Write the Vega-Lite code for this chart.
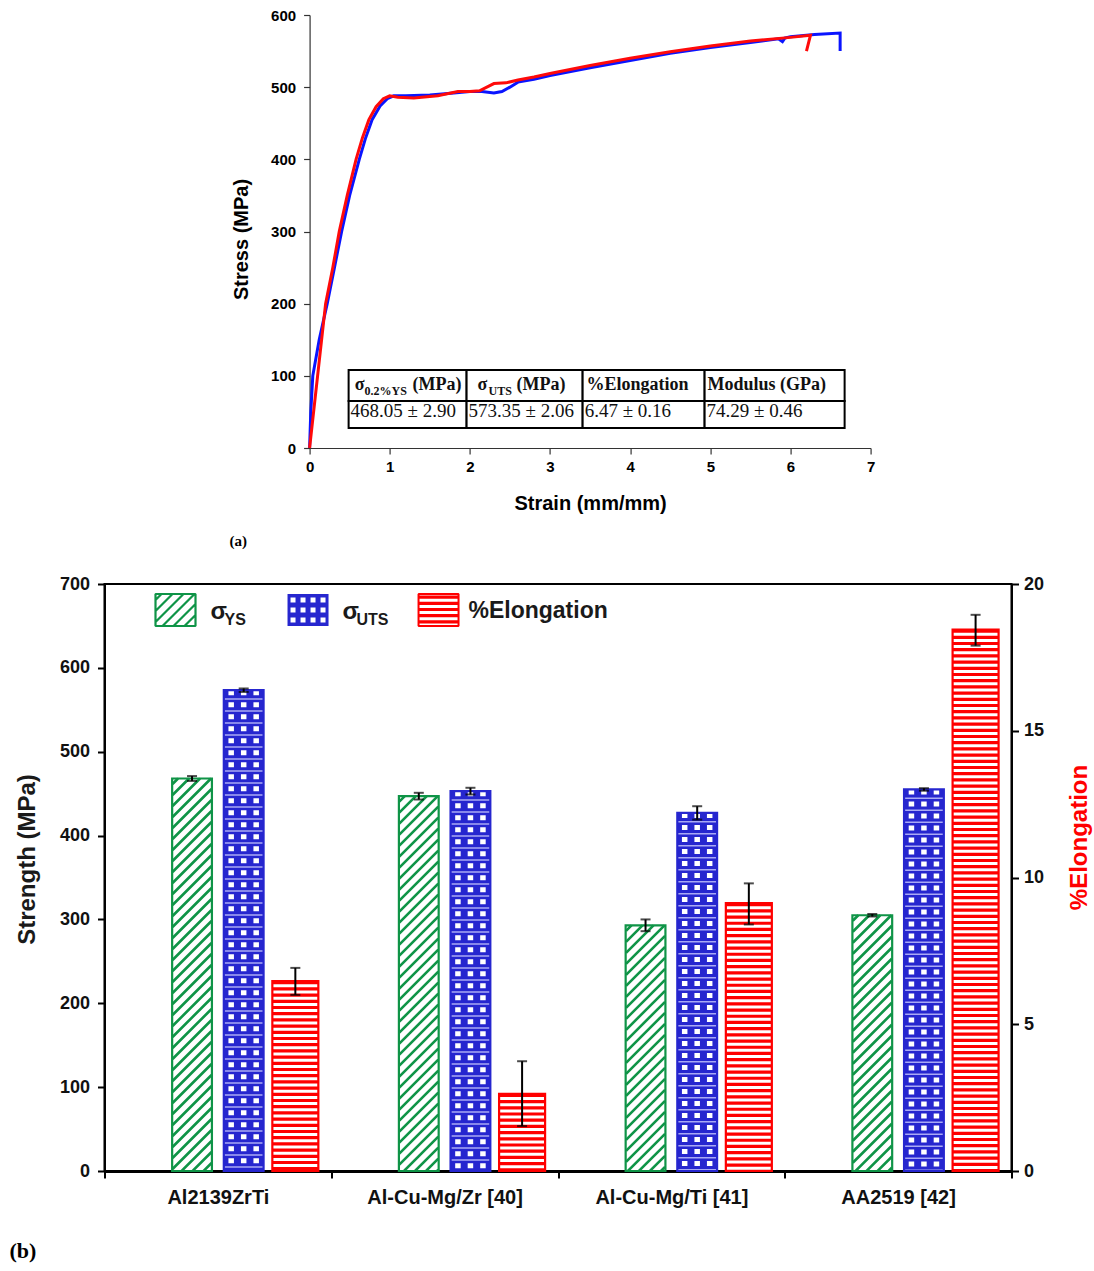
{
  "$schema": "https://vega.github.io/schema/vega-lite/v6.json",
  "background": "white",
  "padding": {"left": 8, "right": 4, "top": 8, "bottom": 2},
  "center": true,
  "spacing": 25,
  "config": {"view": {"stroke": null}, "font": "Liberation Sans"},
  "datasets": {
    "curve": [
      {"specimen": "Test 1", "i": 0, "strain": 0, "stress": 0},
      {"specimen": "Test 1", "i": 1, "strain": 0.015, "stress": 50},
      {"specimen": "Test 1", "i": 2, "strain": 0.04, "stress": 100},
      {"specimen": "Test 1", "i": 3, "strain": 0.12, "stress": 150},
      {"specimen": "Test 1", "i": 4, "strain": 0.22, "stress": 200},
      {"specimen": "Test 1", "i": 5, "strain": 0.31, "stress": 250},
      {"specimen": "Test 1", "i": 6, "strain": 0.4, "stress": 300},
      {"specimen": "Test 1", "i": 7, "strain": 0.5, "stress": 350},
      {"specimen": "Test 1", "i": 8, "strain": 0.62, "stress": 400},
      {"specimen": "Test 1", "i": 9, "strain": 0.7, "stress": 430},
      {"specimen": "Test 1", "i": 10, "strain": 0.78, "stress": 455},
      {"specimen": "Test 1", "i": 11, "strain": 0.88, "stress": 474},
      {"specimen": "Test 1", "i": 12, "strain": 0.97, "stress": 484},
      {"specimen": "Test 1", "i": 13, "strain": 1.05, "stress": 488},
      {"specimen": "Test 1", "i": 14, "strain": 1.2, "stress": 488},
      {"specimen": "Test 1", "i": 15, "strain": 1.5, "stress": 489},
      {"specimen": "Test 1", "i": 16, "strain": 1.8, "stress": 492},
      {"specimen": "Test 1", "i": 17, "strain": 2.0, "stress": 494},
      {"specimen": "Test 1", "i": 18, "strain": 2.15, "stress": 494},
      {"specimen": "Test 1", "i": 19, "strain": 2.3, "stress": 492},
      {"specimen": "Test 1", "i": 20, "strain": 2.4, "stress": 494},
      {"specimen": "Test 1", "i": 21, "strain": 2.5, "stress": 500},
      {"specimen": "Test 1", "i": 22, "strain": 2.6, "stress": 507},
      {"specimen": "Test 1", "i": 23, "strain": 2.8, "stress": 511},
      {"specimen": "Test 1", "i": 24, "strain": 3.0, "stress": 516},
      {"specimen": "Test 1", "i": 25, "strain": 3.5, "stress": 527},
      {"specimen": "Test 1", "i": 26, "strain": 4.0, "stress": 537},
      {"specimen": "Test 1", "i": 27, "strain": 4.5, "stress": 547},
      {"specimen": "Test 1", "i": 28, "strain": 5.0, "stress": 555},
      {"specimen": "Test 1", "i": 29, "strain": 5.5, "stress": 562},
      {"specimen": "Test 1", "i": 30, "strain": 5.85, "stress": 567},
      {"specimen": "Test 1", "i": 31, "strain": 5.9, "stress": 563},
      {"specimen": "Test 1", "i": 32, "strain": 5.93, "stress": 568},
      {"specimen": "Test 1", "i": 33, "strain": 6.0, "stress": 570},
      {"specimen": "Test 1", "i": 34, "strain": 6.3, "stress": 573},
      {"specimen": "Test 1", "i": 35, "strain": 6.62, "stress": 575},
      {"specimen": "Test 1", "i": 36, "strain": 6.62, "stress": 550},
      {"specimen": "Test 2", "i": 0, "strain": 0, "stress": 0},
      {"specimen": "Test 2", "i": 1, "strain": 0.1, "stress": 100},
      {"specimen": "Test 2", "i": 2, "strain": 0.2, "stress": 200},
      {"specimen": "Test 2", "i": 3, "strain": 0.29, "stress": 250},
      {"specimen": "Test 2", "i": 4, "strain": 0.37, "stress": 300},
      {"specimen": "Test 2", "i": 5, "strain": 0.47, "stress": 350},
      {"specimen": "Test 2", "i": 6, "strain": 0.58, "stress": 400},
      {"specimen": "Test 2", "i": 7, "strain": 0.66, "stress": 430},
      {"specimen": "Test 2", "i": 8, "strain": 0.74, "stress": 455},
      {"specimen": "Test 2", "i": 9, "strain": 0.83, "stress": 473},
      {"specimen": "Test 2", "i": 10, "strain": 0.92, "stress": 484},
      {"specimen": "Test 2", "i": 11, "strain": 1.0, "stress": 488},
      {"specimen": "Test 2", "i": 12, "strain": 1.1, "stress": 486},
      {"specimen": "Test 2", "i": 13, "strain": 1.3, "stress": 485},
      {"specimen": "Test 2", "i": 14, "strain": 1.6, "stress": 488},
      {"specimen": "Test 2", "i": 15, "strain": 1.85, "stress": 494},
      {"specimen": "Test 2", "i": 16, "strain": 2.0, "stress": 494},
      {"specimen": "Test 2", "i": 17, "strain": 2.12, "stress": 495},
      {"specimen": "Test 2", "i": 18, "strain": 2.3, "stress": 505},
      {"specimen": "Test 2", "i": 19, "strain": 2.45, "stress": 506},
      {"specimen": "Test 2", "i": 20, "strain": 2.6, "stress": 510},
      {"specimen": "Test 2", "i": 21, "strain": 2.8, "stress": 514},
      {"specimen": "Test 2", "i": 22, "strain": 3.0, "stress": 519},
      {"specimen": "Test 2", "i": 23, "strain": 3.5, "stress": 530},
      {"specimen": "Test 2", "i": 24, "strain": 4.0, "stress": 540},
      {"specimen": "Test 2", "i": 25, "strain": 4.5, "stress": 549},
      {"specimen": "Test 2", "i": 26, "strain": 5.0, "stress": 557},
      {"specimen": "Test 2", "i": 27, "strain": 5.5, "stress": 564},
      {"specimen": "Test 2", "i": 28, "strain": 6.0, "stress": 569},
      {"specimen": "Test 2", "i": 29, "strain": 6.25, "stress": 572},
      {"specimen": "Test 2", "i": 30, "strain": 6.2, "stress": 550}
    ],
    "tablecols": [
      {"col": 1, "left": 0.487, "right": 1.959, "value": "468.05 ± 2.90"},
      {"col": 2, "left": 1.959, "right": 3.407, "value": "573.35 ± 2.06"},
      {"col": 3, "left": 3.407, "right": 4.929, "value": "6.47 ± 0.16"},
      {"col": 4, "left": 4.929, "right": 6.676, "value": "74.29 ± 0.46"}
    ],
    "tablehead": [
      {"strain": 0.562, "text": "σ", "part": "main"},
      {"strain": 0.686, "text": "0.2%YS", "part": "sub"},
      {"strain": 1.285, "text": "(MPa)", "part": "main"},
      {"strain": 2.096, "text": "σ", "part": "main"},
      {"strain": 2.234, "text": "UTS", "part": "sub"},
      {"strain": 2.583, "text": "(MPa)", "part": "main"},
      {"strain": 3.456, "text": "%Elongation", "part": "main"},
      {"strain": 4.966, "text": "Modulus (GPa)", "part": "main"}
    ],
    "bars": [
      {"material": "Al2139ZrTi", "property": "YS", "value": 468.05, "low": 465.15, "high": 470.95},
      {"material": "Al2139ZrTi", "property": "UTS", "value": 573.35, "low": 571.29, "high": 575.41},
      {"material": "Al2139ZrTi", "property": "EL", "value": 6.47, "low": 6.0, "high": 6.92},
      {"material": "Al-Cu-Mg/Zr [40]", "property": "YS", "value": 447, "low": 443, "high": 451},
      {"material": "Al-Cu-Mg/Zr [40]", "property": "UTS", "value": 453, "low": 449, "high": 457},
      {"material": "Al-Cu-Mg/Zr [40]", "property": "EL", "value": 2.63, "low": 1.53, "high": 3.74},
      {"material": "Al-Cu-Mg/Ti [41]", "property": "YS", "value": 293, "low": 286, "high": 300},
      {"material": "Al-Cu-Mg/Ti [41]", "property": "UTS", "value": 427, "low": 419, "high": 435},
      {"material": "Al-Cu-Mg/Ti [41]", "property": "EL", "value": 9.13, "low": 8.4, "high": 9.8},
      {"material": "AA2519 [42]", "property": "YS", "value": 305, "low": 303.5, "high": 306.5},
      {"material": "AA2519 [42]", "property": "UTS", "value": 455, "low": 453.5, "high": 456.5},
      {"material": "AA2519 [42]", "property": "EL", "value": 18.45, "low": 17.9, "high": 18.95}
    ]
  },
  "vconcat": [
    {
      "width": 561,
      "height": 433,
      "title": {"text": "(a)", "orient": "bottom", "anchor": "start", "frame": "group", "font": "Liberation Serif", "fontSize": 15, "fontWeight": "bold", "color": "black", "dx": -80, "offset": 21},
      "layer": [
        {
          "data": {"name": "curve"},
          "mark": {"type": "line", "strokeWidth": 3},
          "encoding": {
            "x": {"field": "strain", "type": "quantitative", "title": "Strain (mm/mm)",
              "scale": {"domain": [0, 7], "nice": false},
              "axis": {"values": [0, 1, 2, 3, 4, 5, 6, 7], "format": "d", "grid": false, "labelFontSize": 15, "labelFontWeight": "bold", "labelColor": "black", "labelPadding": 5, "tickSize": 6, "tickColor": "#333", "tickWidth": 1.2, "domainColor": "#333", "domainWidth": 1.2, "titleFontSize": 20, "titleFontWeight": "bold", "titleColor": "black", "titlePadding": 19, "labelFlush": false}},
            "y": {"field": "stress", "type": "quantitative", "title": "Stress (MPa)",
              "scale": {"domain": [0, 600], "nice": false},
              "axis": {"values": [0, 100, 200, 300, 400, 500, 600], "format": "d", "grid": false, "labelFontSize": 15, "labelFontWeight": "bold", "labelColor": "black", "labelPadding": 8, "tickSize": 6, "tickColor": "#333", "tickWidth": 1.2, "domainColor": "#333", "domainWidth": 1.2, "titleFontSize": 20, "titleFontWeight": "bold", "titleColor": "black", "titlePadding": 19, "titleY": 224}},
            "color": {"field": "specimen", "type": "nominal", "scale": {"domain": ["Test 1", "Test 2"], "range": ["#0a14ff", "#ff0a0a"]}, "legend": null},
            "order": {"field": "i", "type": "quantitative"}
          }
        },
        {
          "data": {"name": "tablecols"},
          "mark": {"type": "rect", "fill": "white", "stroke": "black", "strokeWidth": 2},
          "encoding": {
            "x": {"field": "left", "type": "quantitative", "title": "Strain (mm/mm)"},
            "x2": {"field": "right"},
            "y": {"datum": 108.1, "type": "quantitative", "title": "Stress (MPa)"},
            "y2": {"datum": 65.1}
          }
        },
        {
          "data": {"name": "tablecols"},
          "mark": {"type": "rect", "fill": "white", "stroke": "black", "strokeWidth": 2},
          "encoding": {
            "x": {"field": "left", "type": "quantitative", "title": "Strain (mm/mm)"},
            "x2": {"field": "right"},
            "y": {"datum": 65.1, "type": "quantitative", "title": "Stress (MPa)"},
            "y2": {"datum": 27.7}
          }
        },
        {
          "data": {"name": "tablecols"},
          "mark": {"type": "text", "font": "Liberation Serif", "fontSize": 19, "align": "left", "baseline": "alphabetic", "color": "#111", "dx": 2},
          "encoding": {
            "x": {"field": "left", "type": "quantitative", "title": "Strain (mm/mm)"},
            "y": {"datum": 43, "type": "quantitative", "title": "Stress (MPa)"},
            "text": {"field": "value"}
          }
        },
        {
          "data": {"name": "tablehead"},
          "transform": [{"filter": "datum.part === 'main'"}],
          "mark": {"type": "text", "font": "Liberation Serif", "fontSize": 18, "fontWeight": "bold", "align": "left", "baseline": "alphabetic", "color": "#111"},
          "encoding": {
            "x": {"field": "strain", "type": "quantitative", "title": "Strain (mm/mm)"},
            "y": {"datum": 80.4, "type": "quantitative", "title": "Stress (MPa)"},
            "text": {"field": "text"}
          }
        },
        {
          "data": {"name": "tablehead"},
          "transform": [{"filter": "datum.part === 'sub'"}],
          "mark": {"type": "text", "font": "Liberation Serif", "fontSize": 12, "fontWeight": "bold", "align": "left", "baseline": "alphabetic", "color": "#111"},
          "encoding": {
            "x": {"field": "strain", "type": "quantitative", "title": "Strain (mm/mm)"},
            "y": {"datum": 73.4, "type": "quantitative", "title": "Stress (MPa)"},
            "text": {"field": "text"}
          }
        },
        {
          "data": {"values": [{}]},
          "mark": {"type": "text", "text": ".", "opacity": 0, "align": "right", "fontSize": 10},
          "encoding": {
            "x": {"datum": 7.21, "type": "quantitative", "title": "Strain (mm/mm)"},
            "y": {"datum": 0, "type": "quantitative", "title": "Stress (MPa)"}
          }
        }
      ]
    },
    {
      "width": 907,
      "height": 587,
      "view": {"stroke": "black", "strokeWidth": 2},
      "title": {"text": "(b)", "orient": "bottom", "anchor": "start", "frame": "bounds", "font": "Liberation Serif", "fontSize": 22, "fontWeight": "bold", "color": "black", "dx": -6, "offset": 34},
      "resolve": {"scale": {"x": "independent", "y": "independent"}},
      "layer": [
        {
          "data": {"name": "bars"},
          "transform": [{"filter": "datum.property !== 'EL'"}],
          "encoding": {
            "x": {"field": "material", "type": "nominal", "title": null,
              "scale": {"domain": ["Al2139ZrTi", "Al-Cu-Mg/Zr [40]", "Al-Cu-Mg/Ti [41]", "AA2519 [42]"], "paddingInner": 0, "paddingOuter": 0},
              "axis": {"labelFontSize": 20, "labelFontWeight": "bold", "labelColor": "#111", "labelAngle": 0, "labelPadding": 9, "tickBand": "extent", "tickSize": 7, "tickWidth": 2, "tickColor": "black", "domainColor": "black", "domainWidth": 3, "grid": false}},
            "xOffset": {"field": "property", "type": "nominal", "scale": {"domain": ["_", "YS", "UTS", "EL"], "paddingInner": 0.23, "paddingOuter": 0.31}},
            "y": {"field": "value", "type": "quantitative", "title": "Strength (MPa)",
              "scale": {"domain": [0, 700], "nice": false},
              "axis": {"values": [0, 100, 200, 300, 400, 500, 600, 700], "labelFontSize": 18, "labelFontWeight": "bold", "labelColor": "#111", "labelPadding": 8, "tickSize": 7, "tickWidth": 2, "tickColor": "black", "domainColor": "black", "domainWidth": 2, "titleFontSize": 24, "titleFontWeight": "bold", "titleColor": "#1a1a1a", "titlePadding": 20, "titleY": 275, "grid": false}}
          },
          "layer": [
            {
              "transform": [{"filter": "datum.property === 'YS'"}],
              "mark": {"type": "bar", "fill": "white", "strokeWidth": 0}
            },
            {
              "transform": [{"filter": "datum.property === 'YS'"}],
              "mark": {"type": "point", "clip": true, "size": 4, "filled": false, "opacity": 1, "stroke": "#0f9447", "strokeWidth": 2.6, "strokeJoin": "bevel",
                "shape": "M-19.5 5.5L-14 0M-19.5 16.5L-3 0M-19.5 27.5L8 0M-19.5 38.5L19 0M-19.5 49.5L19.5 10.5m-39 50l39-39m-39 50l39-39m-39 50l39-39m-39 50l39-39m-39 50l39-39m-39 50l39-39m-39 50l39-39m-39 50l39-39m-39 50l39-39m-39 50l39-39m-39 50l39-39m-39 50l39-39m-39 50l39-39m-39 50l39-39m-39 50l39-39m-39 50l39-39m-39 50l39-39m-39 50l39-39m-39 50l39-39m-39 50l39-39m-39 50l39-39m-39 50l39-39m-39 50l39-39m-39 50l39-39m-39 50l39-39m-39 50l39-39m-39 50l39-39m-39 50l39-39m-39 50l39-39m-39 50l39-39m-39 50l39-39m-39 50l39-39m-39 50l39-39m-39 50l39-39m-39 50l39-39m-39 50l39-39"}
            },
            {
              "transform": [{"filter": "datum.property === 'YS'"}],
              "mark": {"type": "bar", "fillOpacity": 0, "stroke": "#0f9447", "strokeWidth": 2.2}
            },
            {
              "transform": [{"filter": "datum.property === 'UTS'"}],
              "mark": {"type": "bar", "fill": "#2626cf", "strokeWidth": 0}
            },
            {
              "transform": [{"filter": "datum.property === 'UTS'"}],
              "mark": {"type": "point", "clip": true, "size": 4, "filled": false, "opacity": 1, "stroke": "white", "strokeWidth": 5.5, "strokeDash": [5, 7], "strokeJoin": "bevel",
                "shape": "M-12.5 0V600M0 0V600M12.5 0V600"}
            },
            {
              "transform": [{"filter": "datum.property === 'UTS'"}],
              "mark": {"type": "point", "clip": true, "size": 4, "filled": false, "opacity": 1, "stroke": "#a9a9f5", "strokeWidth": 1.5, "strokeJoin": "bevel",
                "shape": "M-19.5 8.75h39m-39 12h39m-39 12h39m-39 12h39m-39 12h39m-39 12h39m-39 12h39m-39 12h39m-39 12h39m-39 12h39m-39 12h39m-39 12h39m-39 12h39m-39 12h39m-39 12h39m-39 12h39m-39 12h39m-39 12h39m-39 12h39m-39 12h39m-39 12h39m-39 12h39m-39 12h39m-39 12h39m-39 12h39m-39 12h39m-39 12h39m-39 12h39m-39 12h39m-39 12h39m-39 12h39m-39 12h39m-39 12h39m-39 12h39m-39 12h39m-39 12h39m-39 12h39m-39 12h39m-39 12h39m-39 12h39m-39 12h39m-39 12h39m-39 12h39m-39 12h39m-39 12h39m-39 12h39m-39 12h39m-39 12h39m-39 12h39m-39 12h39"}
            },
            {
              "transform": [{"filter": "datum.property === 'UTS'"}],
              "mark": {"type": "bar", "fillOpacity": 0, "stroke": "#2626cf", "strokeWidth": 2.2}
            },
            {
              "mark": {"type": "rule", "color": "black", "strokeWidth": 2},
              "encoding": {"y": {"field": "low", "type": "quantitative", "title": "Strength (MPa)"}, "y2": {"field": "high"}}
            },
            {
              "mark": {"type": "tick", "color": "black", "thickness": 2, "size": 10},
              "encoding": {"y": {"field": "low", "type": "quantitative", "title": "Strength (MPa)"}}
            },
            {
              "mark": {"type": "tick", "color": "black", "thickness": 2, "size": 10},
              "encoding": {"y": {"field": "high", "type": "quantitative", "title": "Strength (MPa)"}}
            }
          ]
        },
        {
          "data": {"name": "bars"},
          "transform": [{"filter": "datum.property === 'EL'"}],
          "encoding": {
            "x": {"field": "material", "type": "nominal", "title": null,
              "scale": {"domain": ["Al2139ZrTi", "Al-Cu-Mg/Zr [40]", "Al-Cu-Mg/Ti [41]", "AA2519 [42]"], "paddingInner": 0, "paddingOuter": 0},
              "axis": null},
            "xOffset": {"field": "property", "type": "nominal", "scale": {"domain": ["_", "YS", "UTS", "EL"], "paddingInner": 0.23, "paddingOuter": 0.31}},
            "y": {"field": "value", "type": "quantitative", "title": "%Elongation",
              "scale": {"domain": [0, 20], "nice": false},
              "axis": {"orient": "right", "values": [0, 5, 10, 15, 20], "labelFontSize": 18, "labelFontWeight": "bold", "labelColor": "#111", "labelPadding": 5, "tickSize": 7, "tickWidth": 2, "tickColor": "black", "domainColor": "black", "domainWidth": 2, "titleFontSize": 24, "titleFontWeight": "bold", "titleColor": "#ff0000", "titleAngle": 270, "titleBaseline": "top", "titlePadding": 24, "titleY": 253, "grid": false}}
          },
          "layer": [
            {
              "mark": {"type": "bar", "fill": "white", "strokeWidth": 0, "width": 46}
            },
            {
              "mark": {"type": "point", "clip": true, "size": 4, "filled": false, "opacity": 1, "stroke": "#ff0000", "strokeWidth": 3.2, "strokeJoin": "bevel",
                "shape": "M-23 1.6h46m-46 6.2h46m-46 6.2h46m-46 6.2h46m-46 6.2h46m-46 6.2h46m-46 6.2h46m-46 6.2h46m-46 6.2h46m-46 6.2h46m-46 6.2h46m-46 6.2h46m-46 6.2h46m-46 6.2h46m-46 6.2h46m-46 6.2h46m-46 6.2h46m-46 6.2h46m-46 6.2h46m-46 6.2h46m-46 6.2h46m-46 6.2h46m-46 6.2h46m-46 6.2h46m-46 6.2h46m-46 6.2h46m-46 6.2h46m-46 6.2h46m-46 6.2h46m-46 6.2h46m-46 6.2h46m-46 6.2h46m-46 6.2h46m-46 6.2h46m-46 6.2h46m-46 6.2h46m-46 6.2h46m-46 6.2h46m-46 6.2h46m-46 6.2h46m-46 6.2h46m-46 6.2h46m-46 6.2h46m-46 6.2h46m-46 6.2h46m-46 6.2h46m-46 6.2h46m-46 6.2h46m-46 6.2h46m-46 6.2h46m-46 6.2h46m-46 6.2h46m-46 6.2h46m-46 6.2h46m-46 6.2h46m-46 6.2h46m-46 6.2h46m-46 6.2h46m-46 6.2h46m-46 6.2h46m-46 6.2h46m-46 6.2h46m-46 6.2h46m-46 6.2h46m-46 6.2h46m-46 6.2h46m-46 6.2h46m-46 6.2h46m-46 6.2h46m-46 6.2h46m-46 6.2h46m-46 6.2h46m-46 6.2h46m-46 6.2h46m-46 6.2h46m-46 6.2h46m-46 6.2h46m-46 6.2h46m-46 6.2h46m-46 6.2h46m-46 6.2h46m-46 6.2h46m-46 6.2h46m-46 6.2h46m-46 6.2h46m-46 6.2h46m-46 6.2h46m-46 6.2h46m-46 6.2h46m-46 6.2h46m-46 6.2h46"}
            },
            {
              "mark": {"type": "bar", "fillOpacity": 0, "stroke": "#ff0000", "strokeWidth": 2.2, "width": 46}
            },
            {
              "mark": {"type": "rule", "color": "black", "strokeWidth": 2},
              "encoding": {"y": {"field": "low", "type": "quantitative", "title": "%Elongation"}, "y2": {"field": "high"}}
            },
            {
              "mark": {"type": "tick", "color": "black", "thickness": 2, "size": 10},
              "encoding": {"y": {"field": "low", "type": "quantitative", "title": "%Elongation"}}
            },
            {
              "mark": {"type": "tick", "color": "black", "thickness": 2, "size": 10},
              "encoding": {"y": {"field": "high", "type": "quantitative", "title": "%Elongation"}}
            }
          ]
        },
        {
          "data": {"values": [{}]},
          "layer": [
            {
              "mark": {"type": "point", "size": 4, "filled": false, "opacity": 1, "stroke": "#0f9447", "strokeWidth": 2.2, "strokeJoin": "bevel",
                "shape": "M-20 -16H20V16H-20ZM-20 -10L-14 -16M-20 1L-3 -16M-20 12L8 -16M-13 16L19 -16M-2 16L20 -6M9 16L20 5"},
              "encoding": {
                "x": {"datum": 0.0783, "type": "quantitative", "scale": {"domain": [0, 1], "nice": false, "zero": false}, "axis": null},
                "y": {"datum": 669, "type": "quantitative", "scale": {"domain": [0, 700], "nice": false}, "axis": null}
              }
            },
            {
              "mark": {"type": "point", "size": 4, "filled": true, "opacity": 1, "fill": "#2626cf", "strokeWidth": 0,
                "shape": "M-20.5 -16H20.5V16H-20.5ZM-17.5 -12.5V-7.5H-12.5V-12.5ZM-7.5 -12.5V-7.5H-2.5V-12.5ZM2.5 -12.5V-7.5H7.5V-12.5ZM12.5 -12.5V-7.5H17.5V-12.5ZM-17.5 -2.5V2.5H-12.5V-2.5ZM-7.5 -2.5V2.5H-2.5V-2.5ZM2.5 -2.5V2.5H7.5V-2.5ZM12.5 -2.5V2.5H17.5V-2.5ZM-17.5 7.5V12.5H-12.5V7.5ZM-7.5 7.5V12.5H-2.5V7.5ZM2.5 7.5V12.5H7.5V7.5ZM12.5 7.5V12.5H17.5V7.5Z"},
              "encoding": {
                "x": {"datum": 0.2244, "type": "quantitative", "axis": null},
                "y": {"datum": 669, "type": "quantitative", "axis": null}
              }
            },
            {
              "mark": {"type": "point", "size": 4, "filled": false, "opacity": 1, "stroke": "#ff0000", "strokeWidth": 3.2, "strokeJoin": "bevel",
                "shape": "M-20 -12.9H20M-20 -6.7H20M-20 -0.5H20M-20 5.7H20M-20 11.9H20"},
              "encoding": {
                "x": {"datum": 0.3683, "type": "quantitative", "axis": null},
                "y": {"datum": 669, "type": "quantitative", "axis": null}
              }
            },
            {
              "mark": {"type": "point", "size": 4, "filled": false, "opacity": 1, "stroke": "#ff0000", "strokeWidth": 2, "strokeJoin": "bevel", "shape": "M-20 -16H20V16H-20Z"},
              "encoding": {
                "x": {"datum": 0.3683, "type": "quantitative", "axis": null},
                "y": {"datum": 669, "type": "quantitative", "axis": null}
              }
            },
            {
              "mark": {"type": "text", "text": "σ", "fontSize": 24, "fontWeight": "bold", "align": "left", "baseline": "alphabetic", "color": "#1a1a1a"},
              "encoding": {
                "x": {"datum": 0.1169, "type": "quantitative", "axis": null},
                "y": {"datum": 658, "type": "quantitative", "axis": null}
              }
            },
            {
              "mark": {"type": "text", "text": "YS", "fontSize": 16, "fontWeight": "bold", "align": "left", "baseline": "alphabetic", "color": "#1a1a1a"},
              "encoding": {
                "x": {"datum": 0.1323, "type": "quantitative", "axis": null},
                "y": {"datum": 651, "type": "quantitative", "axis": null}
              }
            },
            {
              "mark": {"type": "text", "text": "σ", "fontSize": 24, "fontWeight": "bold", "align": "left", "baseline": "alphabetic", "color": "#1a1a1a"},
              "encoding": {
                "x": {"datum": 0.2624, "type": "quantitative", "axis": null},
                "y": {"datum": 658, "type": "quantitative", "axis": null}
              }
            },
            {
              "mark": {"type": "text", "text": "UTS", "fontSize": 16, "fontWeight": "bold", "align": "left", "baseline": "alphabetic", "color": "#1a1a1a"},
              "encoding": {
                "x": {"datum": 0.2778, "type": "quantitative", "axis": null},
                "y": {"datum": 651, "type": "quantitative", "axis": null}
              }
            },
            {
              "mark": {"type": "text", "text": "%Elongation", "fontSize": 23, "fontWeight": "bold", "align": "left", "baseline": "alphabetic", "color": "#1a1a1a"},
              "encoding": {
                "x": {"datum": 0.4013, "type": "quantitative", "axis": null},
                "y": {"datum": 659, "type": "quantitative", "axis": null}
              }
            }
          ]
        }
      ]
    }
  ]
}
